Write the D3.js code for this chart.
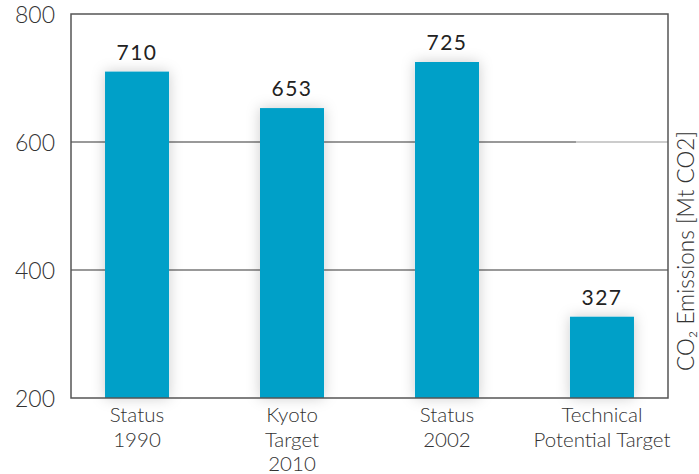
<!DOCTYPE html>
<html><head><meta charset="utf-8">
<script src="https://cdn.jsdelivr.net/npm/d3@7/dist/d3.min.js"></script>
<style>body{margin:0;background:#fff}svg{display:block;font-family:Lato,"Open Sans",sans-serif}</style>
</head><body>
<svg id="c" width="699" height="474"></svg>
<script>
const categories = [["Status","1990"],["Kyoto","Target","2010"],["Status","2002"],["Technical","Potential Target"]];
const values = [710, 653, 725, 327];
const yTicks = [200, 400, 600, 800];
const gridValues = [400, 600];
const yTitle = "CO₂ Emissions [Mt CO2]";

const svg = d3.select("#c");
const L = 71, R = 668, T = 14, B = 398;
const x = d3.scaleBand().domain(d3.range(values.length)).range([L, R]).paddingInner(0.587).paddingOuter(0.2195);
const y = d3.scaleLinear().domain([200, 800]).range([B, T]);

const defs = svg.append("defs");
const f = defs.append("filter").attr("id","sh").attr("x","-50%").attr("y","-50%").attr("width","200%").attr("height","200%");
f.append("feDropShadow").attr("dx",0).attr("dy",0).attr("stdDeviation",7).attr("flood-color","#000").attr("flood-opacity",0.2);

// gridlines
const gg = svg.append("g");
gg.selectAll("line.full").data(gridValues).join("line").attr("class","full")
  .attr("x1", L).attr("x2", R).attr("y1", d => y(d)).attr("y2", d => y(d))
  .attr("stroke", "#999").attr("stroke-width", d => d === 600 ? 1.2 : 2);
gg.append("line").attr("x1", L).attr("x2", x(3) + 6).attr("y1", y(600)).attr("y2", y(600))
  .attr("stroke", "#999").attr("stroke-width", 2);

// bars
svg.append("g").selectAll("rect").data(values).join("rect")
  .attr("x", (d,i) => x(i)).attr("width", x.bandwidth())
  .attr("y", d => y(d)).attr("height", d => y(200) - y(d))
  .attr("fill", "#00a0c8").attr("filter","url(#sh)");

// frame
svg.append("rect").attr("x", L).attr("y", T).attr("width", R - L).attr("height", B - T)
  .attr("fill","none").attr("stroke","#555").attr("stroke-width",1.5);

// value labels
svg.append("g").selectAll("text").data(values).join("text")
  .attr("x", (d,i) => x(i) + x.bandwidth()/2).attr("y", d => y(d) - 12)
  .attr("text-anchor","middle").attr("font-size",21).attr("fill","#222").attr("letter-spacing","1.5")
  .text(d => d);

// y axis labels
const yAxis = d3.axisLeft(y).tickValues(yTicks).tickSize(0).tickPadding(16);
const ga = svg.append("g").attr("transform", `translate(${L},0)`).call(yAxis);
ga.select(".domain").remove();
ga.selectAll("text").attr("font-size",23).attr("font-weight",300).attr("fill","#333").attr("font-family","Lato,'Open Sans',sans-serif").attr("dy","0.35em");

// category labels (one text per line)
const lines = categories.flatMap((c,i) => c.map((t,j) => ({i, j, t})));
svg.append("g").selectAll("text").data(lines).join("text")
  .attr("x", d => x(d.i) + x.bandwidth()/2).attr("y", d => B + 24 + d.j * 24.5)
  .attr("text-anchor","middle").attr("font-size",20.5).attr("font-weight",300).attr("fill","#333")
  .text(d => d.t);

// right title
svg.append("text").attr("transform", `translate(694,251) rotate(-90)`)
  .attr("text-anchor","middle").attr("font-size",22.5).attr("font-weight",300).attr("fill","#333").text(yTitle);
</script>
</body></html>
